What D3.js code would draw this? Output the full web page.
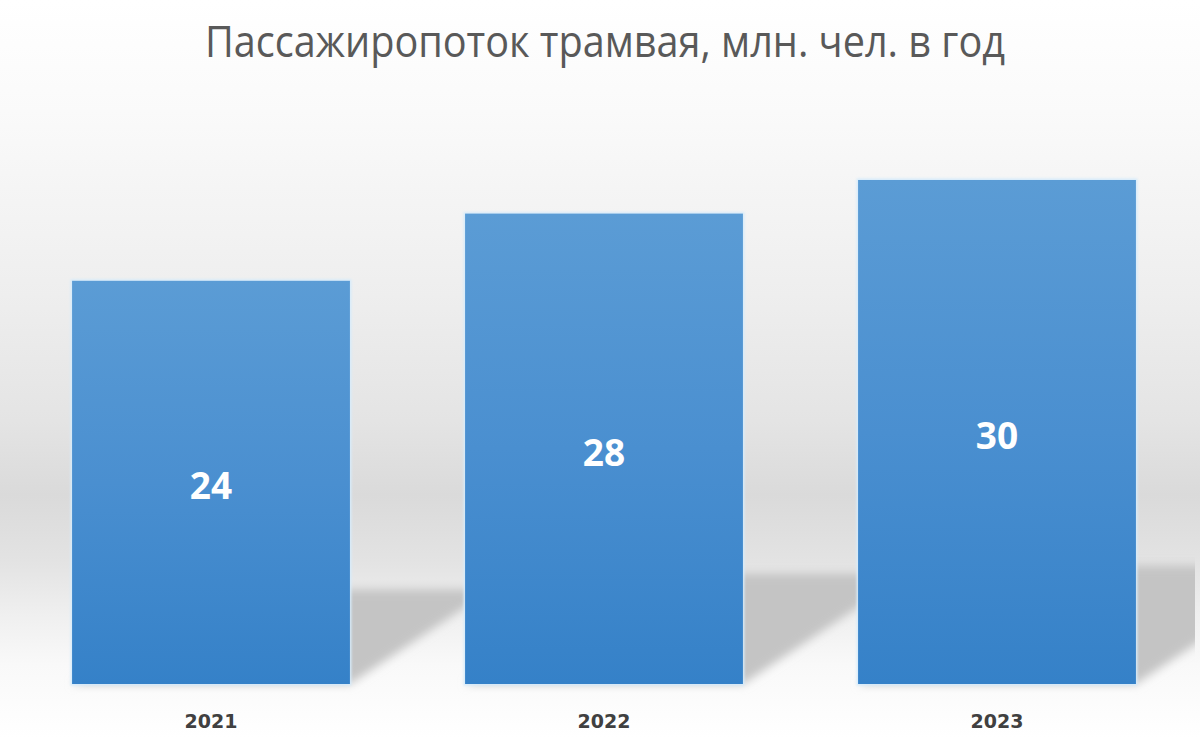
<!DOCTYPE html>
<html><head><meta charset="utf-8">
<script src="https://cdn.jsdelivr.net/npm/d3@7"></script>
<style>html,body{margin:0;padding:0;background:#fff;overflow:hidden}</style>
</head><body>
<svg id="c" width="1200" height="739"></svg>
<script>
const title = "Пассажиропоток трамвая, млн. чел. в год";
const years = ["2021", "2022", "2023"];
const values = [24, 28, 30];

const W = 1200, H = 739;
const svg = d3.select("#c");
const defs = svg.append("defs");

const bg = defs.append("linearGradient").attr("id","bg").attr("x1",0).attr("y1",0).attr("x2",0).attr("y2",1);
[[0,"#ffffff"],[0.15,"#fafafa"],[0.4,"#eeeeee"],[0.57,"#e4e4e4"],[0.67,"#dadada"],[0.76,"#e3e3e3"],[0.83,"#efefef"],[0.9,"#f9f9f9"],[1,"#ffffff"]]
  .forEach(([o,c])=>bg.append("stop").attr("offset",o).attr("stop-color",c));

const bar = defs.append("linearGradient").attr("id","bar").attr("x1",0).attr("y1",0).attr("x2",0).attr("y2",1);
[[0,"#5b9cd5"],[0.5,"#4a8fd0"],[1,"#3581c8"]].forEach(([o,c])=>bar.append("stop").attr("offset",o).attr("stop-color",c));

defs.append("filter").attr("id","blur").attr("x","-20%").attr("y","-20%").attr("width","140%").attr("height","140%")
  .append("feGaussianBlur").attr("stdDeviation",5);
defs.append("filter").attr("id","glow").attr("x","-5%").attr("y","-5%").attr("width","110%").attr("height","110%")
  .append("feGaussianBlur").attr("stdDeviation",1.2);
defs.append("clipPath").attr("id","clip").append("rect").attr("x",0).attr("y",0).attr("width",1195).attr("height",H);

svg.append("rect").attr("width",W).attr("height",H).attr("fill","url(#bg)");

const x = d3.scaleBand().domain(years).range([14.5,1193.5]).paddingInner(0.293).paddingOuter(0.1465);
const y = d3.scaleLinear().domain([0,35]).range([684,96]);
const base = y(0);

// shadows
const sh = svg.append("g").attr("clip-path","url(#clip)").append("g").attr("filter","url(#blur)");
sh.selectAll("path").data(years).join("path")
  .attr("d",(d,i)=>{
    const x0 = x(d), x1 = x(d)+x.bandwidth();
    const h = (base - y(values[i]))*0.235;
    const dx = h*1.5;
    return `M${x0},${base}L${x1},${base}L${x1+dx},${base-h}L${x0+dx},${base-h}Z`;
  })
  .attr("fill","#c4c4c4");

// glow edge
svg.append("g").attr("filter","url(#glow)").selectAll("rect").data(years).join("rect")
  .attr("x",d=>x(d)-1.5).attr("width",x.bandwidth()+3)
  .attr("y",(d,i)=>y(values[i])-1.5).attr("height",(d,i)=>base-y(values[i])+3)
  .attr("fill","#d6ebfb");

svg.append("g").selectAll("rect").data(years).join("rect")
  .attr("x",d=>x(d)).attr("width",x.bandwidth())
  .attr("y",(d,i)=>y(values[i])).attr("height",(d,i)=>base-y(values[i]))
  .attr("fill","url(#bar)");

// value labels
svg.append("g").selectAll("text").data(years).join("text")
  .attr("x",d=>x(d)+x.bandwidth()/2)
  .attr("y",(d,i)=>(y(values[i])+base)/2+17)
  .attr("text-anchor","middle")
  .attr("font-family","'Open Sans', sans-serif").attr("font-weight","bold").attr("font-size",37)
  .attr("fill","#ffffff")
  .text((d,i)=>values[i]);

// x axis labels
const ax = svg.append("g").attr("transform",`translate(0,${base})`)
  .call(d3.axisBottom(x).tickSize(0).tickPadding(0));
ax.select(".domain").remove();
ax.selectAll("text")
  .attr("y",44).attr("dy",null)
  .attr("font-family","'DejaVu Sans', sans-serif").attr("font-weight","bold").attr("font-size",19)
  .attr("fill","#404040");

svg.append("text").attr("x",605).attr("y",57).attr("text-anchor","middle")
  .attr("font-family","'Open Sans', sans-serif").attr("font-size",43)
  .attr("textLength",800).attr("lengthAdjust","spacingAndGlyphs")
  .attr("fill","#595959").text(title);
</script>
</body></html>
